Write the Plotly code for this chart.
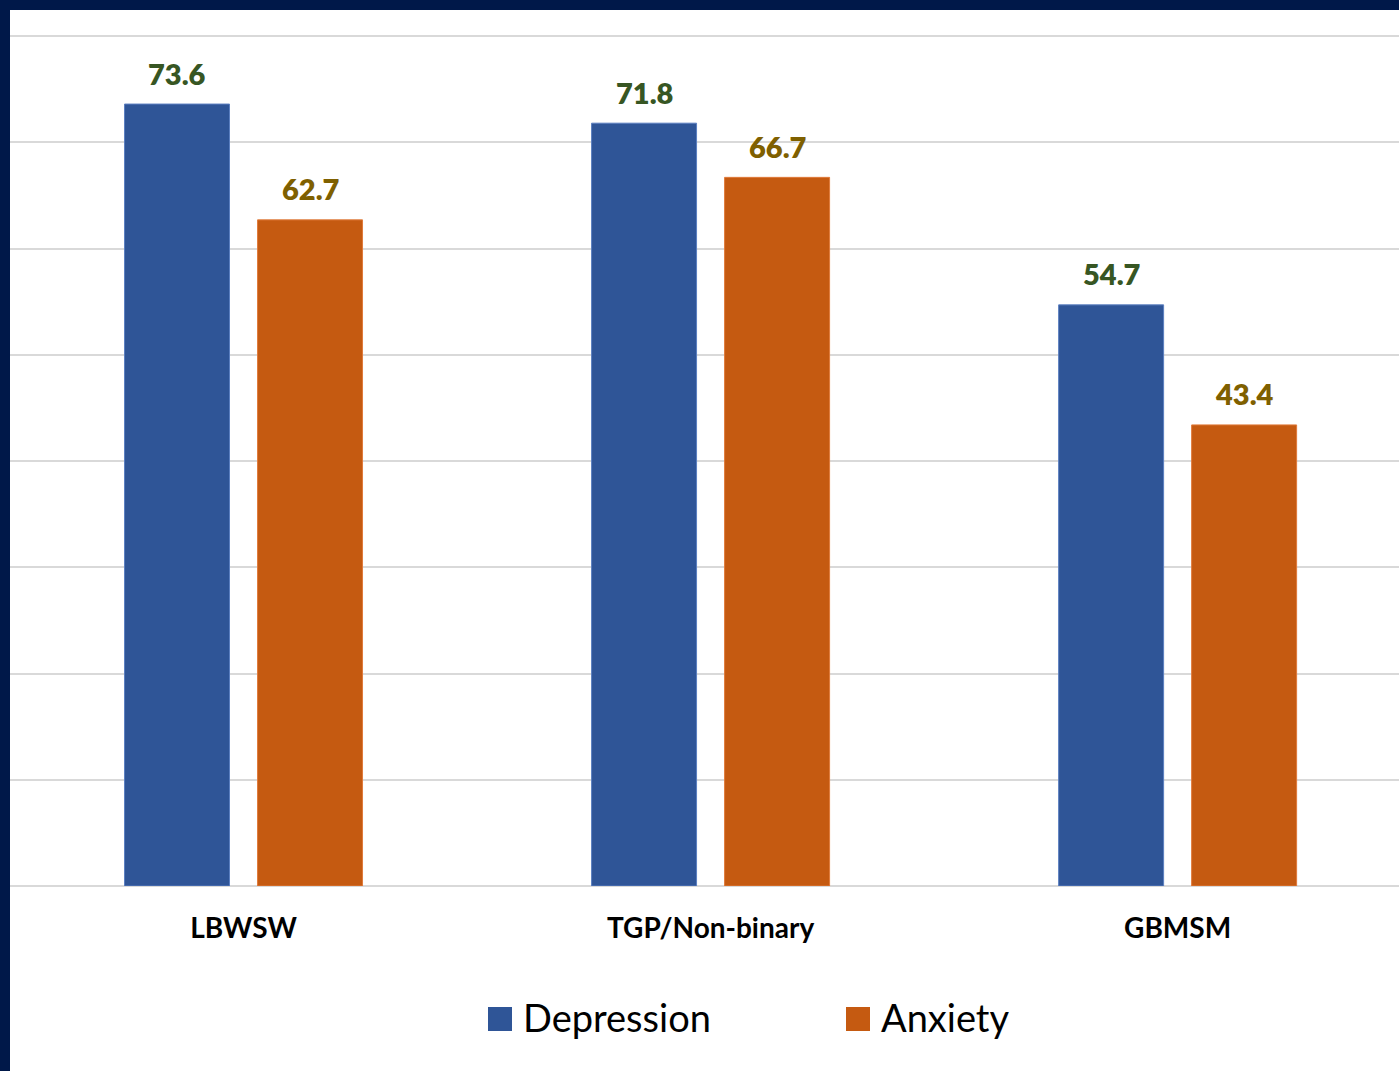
import plotly.graph_objects as go

categories = ["LBWSW", "TGP/Non-binary", "GBMSM"]
depression = [73.6, 71.8, 54.7]
anxiety = [62.7, 66.7, 43.4]
series_names = ["Depression", "Anxiety"]

W, H = 1399, 1071
L, T, B = 10, 35, 185
Y_MAX = 80.1
PLOT_W = W - L
PLOT_H = H - T - B
BASE_Y = H - B  # pixel y of the zero line


def px_x(p):
    return (p - L) / PLOT_W


def px_y(p):
    return (BASE_Y - p) / PLOT_H


BLUE = "#2F5597"
ORANGE = "#C55A11"
GREEN = "#375623"
GOLD = "#7F6000"
NAVY = "#001849"
FONT = "Lato"

bar_w = 0.2248
gap = 0.03

fig = go.Figure()
fig.add_trace(go.Bar(
    x=categories, y=depression, name=series_names[0],
    marker=dict(color=BLUE, line=dict(color="#5B7FC0", width=1)),
    width=bar_w, offset=-(bar_w + gap), showlegend=False,
))
fig.add_trace(go.Bar(
    x=categories, y=anxiety, name=series_names[1],
    marker=dict(color=ORANGE, line=dict(color="#E07A3A", width=1)),
    width=bar_w, offset=gap, showlegend=False,
))

# value labels
shift = bar_w / 2 + gap
for i, v in enumerate(depression):
    fig.add_annotation(x=i - shift, y=v, xref="x", yref="y", text=f"{v:.1f}",
                       showarrow=False, yanchor="middle", yshift=31,
                       font=dict(family=FONT, size=29, color=GREEN, weight=800))
for i, v in enumerate(anxiety):
    fig.add_annotation(x=i + shift, y=v, xref="x", yref="y", text=f"{v:.1f}",
                       showarrow=False, yanchor="middle", yshift=31,
                       font=dict(family=FONT, size=29, color=GOLD, weight=800))

# white page area over navy frame
fig.add_shape(type="rect", xref="paper", yref="paper", layer="below",
              x0=0, x1=1.02, y0=px_y(H + 5), y1=px_y(10),
              fillcolor="white", line=dict(width=0))

# custom legend
legend_items = [(series_names[0], BLUE, 488, 521), (series_names[1], ORANGE, 846, 879)]
for name, col, sq_x, tx in legend_items:
    fig.add_shape(type="rect", xref="paper", yref="paper",
                  x0=px_x(sq_x), x1=px_x(sq_x + 24), y0=px_y(1031), y1=px_y(1007),
                  fillcolor=col, line=dict(width=0))
    fig.add_annotation(x=px_x(tx), y=px_y(1017), xref="paper", yref="paper",
                       text=name, showarrow=False, xanchor="left", yanchor="middle",
                       font=dict(family=FONT, size=38, color="black"))

fig.update_layout(
    width=W, height=H,
    margin=dict(l=L, r=0, t=T, b=B, pad=0),
    paper_bgcolor=NAVY, plot_bgcolor="white",
    barmode="overlay",
    font=dict(family=FONT),
    xaxis=dict(range=[-0.5, 2.474], showgrid=False, showline=False, zeroline=False,
               tickfont=dict(family=FONT, size=28, color="black", weight="bold"),
               ticks="", ticklabelstandoff=23, fixedrange=True),
    yaxis=dict(range=[0, Y_MAX], dtick=10, showticklabels=False, showgrid=True,
               gridcolor="#D9D9D9", gridwidth=2, zeroline=True, zerolinecolor="#D9D9D9",
               zerolinewidth=2, showline=False, ticks="", fixedrange=True),
)

fig.write_html("out.html")
